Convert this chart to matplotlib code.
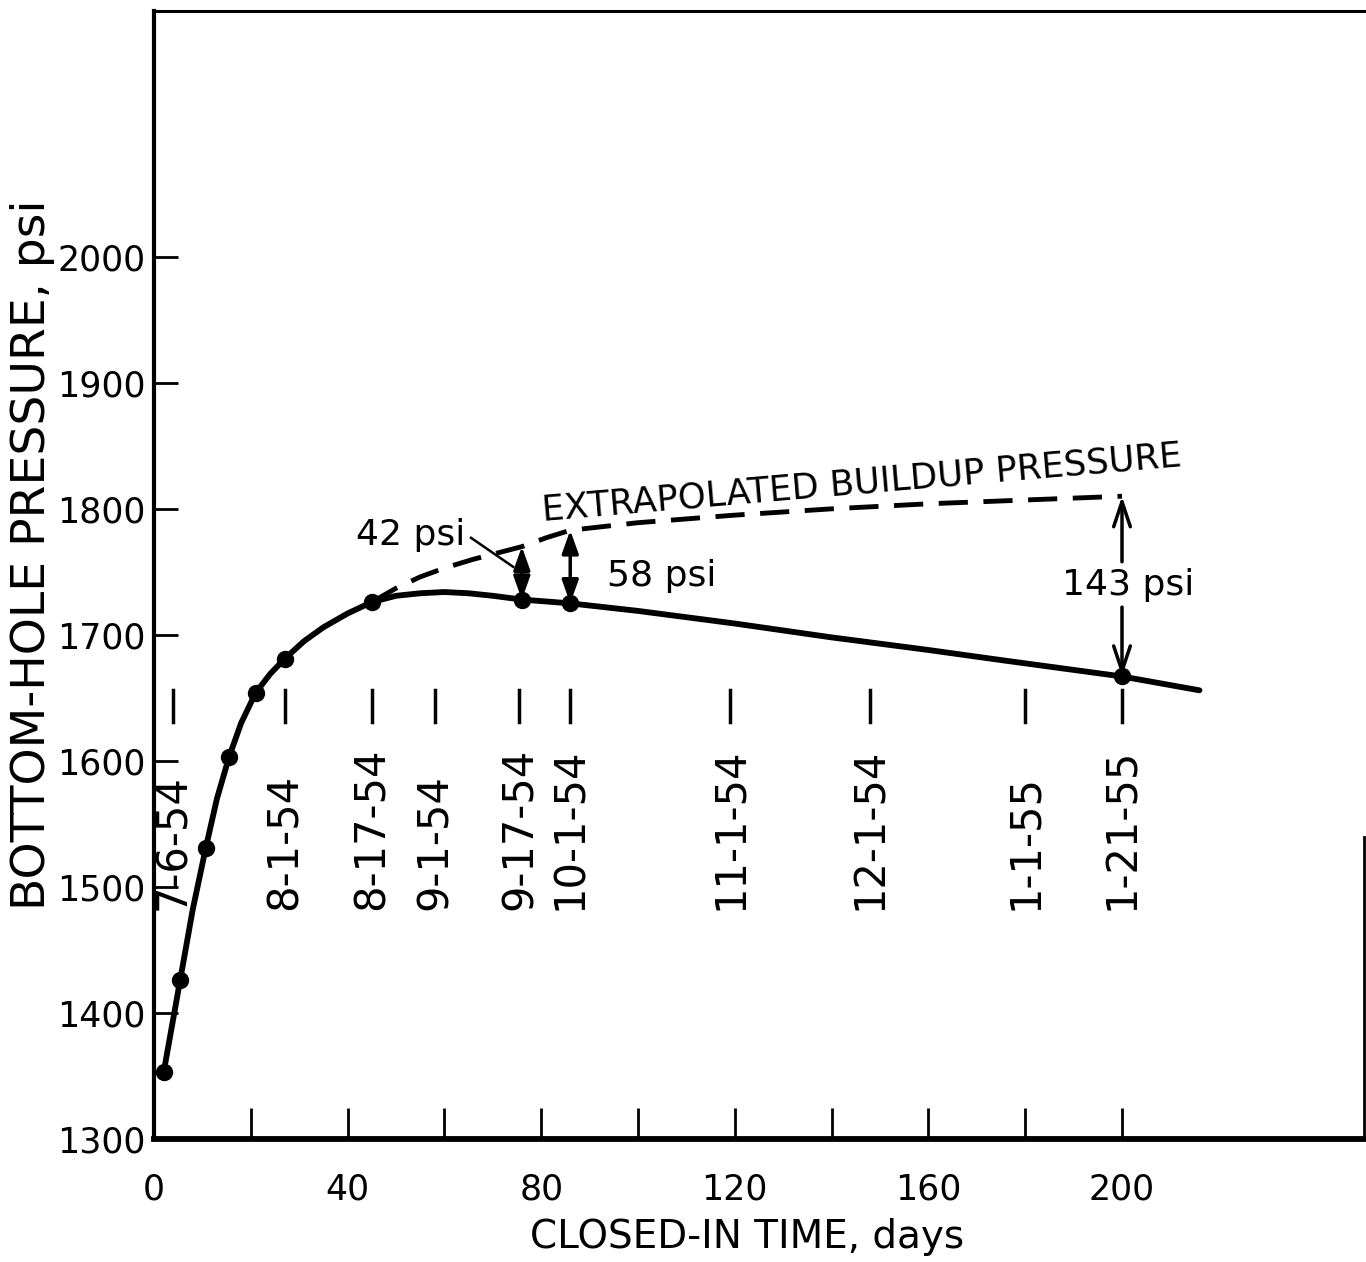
import matplotlib
matplotlib.use("Agg")
import matplotlib.pyplot as plt
from matplotlib.ticker import FixedLocator

# ---- data -------------------------------------------------------------
# measured bottom-hole pressures (closed-in days, psi)
meas_days = [2, 5.4, 10.7, 15.5, 21, 27, 45, 76, 86, 200]
meas_psi = [1353, 1426, 1531, 1603, 1654, 1681, 1726, 1728, 1725, 1667]

# smooth pressure curve through the measurements
curve_days = [2, 5.4, 8, 10.7, 13, 15.5, 18, 21, 24, 27, 31, 35, 40, 45, 50,
              55, 60, 65, 70, 76, 86, 100, 120, 140, 160, 175, 200, 216]
curve_psi = [1353, 1426, 1482, 1531, 1570, 1603, 1630, 1654, 1669, 1681, 1695,
             1706, 1717, 1726, 1731, 1733, 1734, 1733, 1731, 1728, 1725, 1719,
             1709, 1698, 1688, 1680, 1667, 1656]

# extrapolated buildup pressure
ext_days = [45, 50, 55, 60, 66, 72, 76, 81, 86, 93, 100, 120, 140, 160, 180, 200]
ext_psi = [1726, 1737, 1746, 1753, 1760, 1766, 1770, 1777, 1783, 1786, 1789,
           1795, 1800, 1804, 1807, 1810]

# pressure deficits shown with arrows
gap_days = [76, 86, 200]
gap_psi = [42, 58, 143]
gap_base = [1728, 1725, 1667]

# calendar dates of the surveys
date_days = [4, 27, 45, 58, 75.5, 86, 119, 148, 180, 200]
date_labels = ["7-6-54", "8-1-54", "8-17-54", "9-1-54", "9-17-54", "10-1-54",
               "11-1-54", "12-1-54", "1-1-55", "1-21-55"]

x_major = [0, 40, 80, 120, 160, 200]
x_minor = [20, 60, 100, 140, 180]
y_ticks = [1300, 1400, 1500, 1600, 1700, 1800, 1900, 2000]

plt.rcParams["font.family"] = ["DejaVu Sans"]

# ---- figure -----------------------------------------------------------
W, H = 1366, 1262
fig = plt.figure(figsize=(W / 100, H / 100), dpi=100)
ax = fig.add_axes([154 / W, (H - 1139) / H, 1210 / W, 1128 / H])
ax.set_xlim(0, 250)
ax.set_ylim(1300, 2195)

for side, lw in [("left", 3.0), ("bottom", 4.2), ("top", 2.2), ("right", 2.0)]:
    ax.spines[side].set_linewidth(lw)
ax.spines["right"].set_bounds(1300, 1540)

ax.xaxis.set_major_locator(FixedLocator(x_major))
ax.xaxis.set_minor_locator(FixedLocator(x_minor))
ax.set_xticklabels([str(v) for v in x_major])
ax.yaxis.set_major_locator(FixedLocator(y_ticks))
ax.set_yticklabels([str(v) for v in y_ticks])
ax.tick_params(axis="x", which="both", direction="in", length=22, width=2,
               labelsize=25, pad=24, top=False)
ax.tick_params(axis="y", which="major", direction="in", length=17, width=2,
               labelsize=25, pad=6, right=False)

# curves
ax.plot(curve_days, curve_psi, color="black", lw=4.2, solid_capstyle="round",
        solid_joinstyle="round", zorder=3)
ax.plot(ext_days, ext_psi, color="black", lw=3.5, dashes=(6, 3.2), zorder=3)
ax.plot(meas_days, meas_psi, "o", color="black", ms=11.5, zorder=4)

# survey dates
for d, lab in zip(date_days, date_labels):
    ax.plot([d, d], [1631, 1656], color="black", lw=2.5)
    ax.text(d, 1482, lab, rotation=90, ha="center", va="bottom", fontsize=30)

# deficit arrows
for d, g, b in zip(gap_days[:2], gap_psi[:2], gap_base[:2]):
    ax.annotate("", xy=(d, b + g), xytext=(d, b),
                arrowprops=dict(arrowstyle="<|-|>,head_length=0.7,head_width=0.25",
                                lw=2.5, color="black", shrinkA=0, shrinkB=0,
                                mutation_scale=20))
d, g, b = gap_days[2], gap_psi[2], gap_base[2]
ax.annotate("", xy=(d, b + g), xytext=(d, 1758),
            arrowprops=dict(arrowstyle="->,head_length=0.9,head_width=0.3",
                            lw=2.5, color="black", shrinkA=0, shrinkB=0,
                            mutation_scale=20))
ax.annotate("", xy=(d, b), xytext=(d, 1722),
            arrowprops=dict(arrowstyle="->,head_length=0.9,head_width=0.3",
                            lw=2.5, color="black", shrinkA=0, shrinkB=0,
                            mutation_scale=20))

ax.text(53.1, 1771, "42 psi", ha="center", va="baseline", fontsize=26)
ax.plot([65.5, 74.2], [1777, 1754], color="black", lw=1.8)
ax.text(104.8, 1739, "58 psi", ha="center", va="baseline", fontsize=26)
ax.text(201.2, 1731.5, "143 psi", ha="center", va="baseline", fontsize=26)

ax.text(80.3, 1791, "EXTRAPOLATED BUILDUP PRESSURE", rotation=4.9,
        rotation_mode="anchor", ha="left", va="baseline", fontsize=25.5)

# axis titles
ax.text(-0.1, 0.518, "BOTTOM-HOLE PRESSURE, psi", rotation=90, ha="center",
        va="center", fontsize=34, transform=ax.transAxes)
ax.text((747 - 154) / 1210, (1139 - 1237) / 1128, "CLOSED-IN TIME, days",
        ha="center", va="center", fontsize=28, transform=ax.transAxes)

fig.savefig("out.png", dpi=100)
